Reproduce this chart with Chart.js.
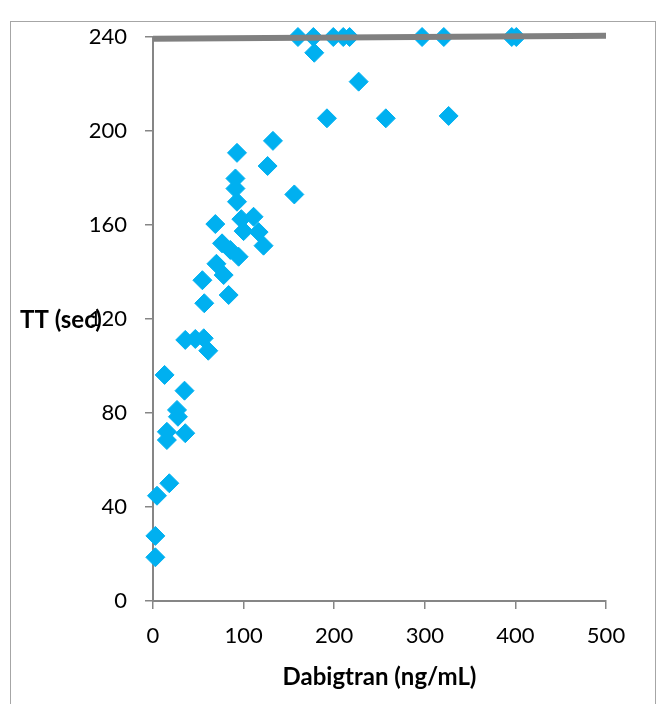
<!DOCTYPE html>
<html>
<head>
<meta charset="utf-8">
<script src="https://cdn.jsdelivr.net/npm/chart.js@4.4.1/dist/chart.umd.min.js"></script>
<style>
  html, body { margin: 0; padding: 0; background: #fff; }
  #wrap { position: relative; width: 659px; height: 704px; }
  #frame { position: absolute; left: 10px; top: 21px; width: 646px; height: 700px;
           border: 1.5px solid #a6a6a6; box-sizing: border-box; }
  canvas { position: absolute; left: 0; top: 0; }
</style>
</head>
<body>
<div id="wrap">
  <div id="frame"></div>
  <canvas id="chart" width="659" height="704"></canvas>
</div>
<script>
// ==========================
// Data
// ==========================
const dabigatran = [
  2.6, 2.6, 4.4, 18, 15.3, 15.3, 35.6, 27.5, 26.5, 34.8,
  12.8, 61, 35.6, 46.7, 56, 56.6, 83.5, 54.5, 78, 70,
  94.5, 85.3, 76.2, 122, 100, 116.6, 68.8, 97.5, 111, 92.7,
  156, 91, 91, 126.5, 92.7, 132.4, 192, 257, 326.3, 227,
  178, 160, 177, 199, 210, 217, 297, 321, 396, 401
];
const ttSeconds = [
  18.6, 27.7, 44.8, 50.1, 68.5, 72, 71.4, 78.4, 81.3, 89.5,
  96.2, 106.5, 111.1, 111.5, 111.8, 126.7, 130.2, 136.5, 138.7, 143.5,
  146.5, 149.4, 152.2, 151.2, 157.4, 157, 160.4, 162.5, 163.5, 169.9,
  173, 175.5, 179.8, 185.1, 190.7, 195.8, 205.4, 205.4, 206.4, 221,
  233.3, 240, 240, 240, 240, 240, 240, 240, 240, 240
];
// grey ceiling line (two ends)
const ceilingX = [0, 500];
const ceilingY = [239.3, 240.5];

const xTicks = [0, 100, 200, 300, 400, 500];
const yTicks = [0, 40, 80, 120, 160, 200, 240];

const FONT = 'Lato, "Open Sans", sans-serif';
const AXIS_GREY = '#868686';

// horizontal y-axis title, like the Excel original
const yTitlePlugin = {
  id: 'yTitle',
  afterDraw(chart) {
    const ctx = chart.ctx;
    ctx.save();
    ctx.font = 'bold 24px ' + FONT;
    ctx.fillStyle = '#000';
    ctx.textAlign = 'left';
    ctx.textBaseline = 'middle';
    ctx.fillText('TT (sec)', 20, 320);
    ctx.restore();
  }
};

const ctx = document.getElementById('chart').getContext('2d');
new Chart(ctx, {
  type: 'scatter',
  data: {
    datasets: [
      {
        label: 'ceiling',
        data: ceilingX.map((x, i) => ({ x: x, y: ceilingY[i] })),
        showLine: true,
        borderColor: '#808080',
        borderWidth: 6,
        pointRadius: 0,
        clip: false,
        order: 0
      },
      {
        label: 'TT',
        data: dabigatran.map((x, i) => ({ x: x, y: ttSeconds[i] })),
        pointStyle: 'rectRot',
        pointRadius: 9.5,
        backgroundColor: '#00b0f0',
        borderColor: '#00b0f0',
        borderWidth: 1,
        clip: false,
        order: 1
      }
    ]
  },
  options: {
    responsive: false,
    animation: false,
    layout: { padding: { left: 0, right: 53, top: 37, bottom: 0 } },
    plugins: { legend: { display: false }, tooltip: { enabled: false } },
    scales: {
      x: {
        type: 'linear',
        min: 0,
        max: 500,
        afterBuildTicks(scale) { scale.ticks = xTicks.map(v => ({ value: v })); },
        afterFit(scale) { scale.height = 103; },
        border: { display: true, color: AXIS_GREY, width: 2 },
        grid: { drawOnChartArea: false, drawTicks: true, tickLength: 8, color: AXIS_GREY, lineWidth: 1.5 },
        ticks: { color: '#000', font: { family: FONT, size: 22 }, padding: 14 },
        title: {
          display: true,
          text: 'Dabigtran (ng/mL)',
          color: '#000',
          font: { family: FONT, size: 24, weight: 'bold' },
          padding: { top: 0, bottom: 12 }
        }
      },
      y: {
        type: 'linear',
        min: 0,
        max: 240,
        afterBuildTicks(scale) { scale.ticks = yTicks.map(v => ({ value: v })); },
        afterFit(scale) { scale.width = 153; },
        border: { display: true, color: AXIS_GREY, width: 2 },
        grid: { drawOnChartArea: false, drawTicks: true, tickLength: 8, color: AXIS_GREY, lineWidth: 1.5 },
        ticks: { color: '#000', font: { family: FONT, size: 22 }, padding: 18 }
      }
    }
  },
  plugins: [yTitlePlugin]
});
</script>
</body>
</html>
